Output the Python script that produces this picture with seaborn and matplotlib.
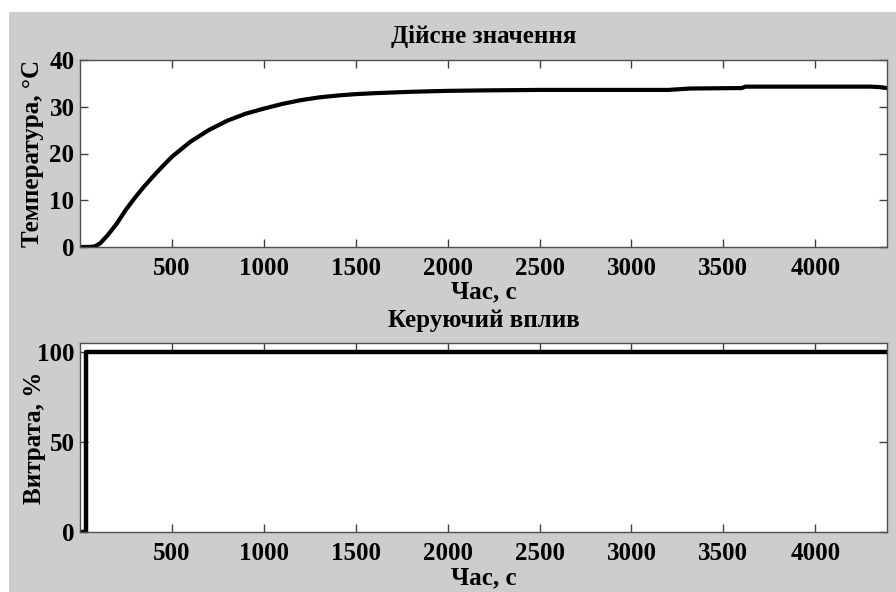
# Перехідний процес: температура та керуючий вплив (MATLAB-подібний вигляд)

import pandas as pd
import matplotlib
matplotlib.use("Agg")
import matplotlib.pyplot as plt
import seaborn as sns
from matplotlib.patches import Rectangle

# Дані
time_temp = [0, 40, 80, 110, 150, 200, 250, 300, 350, 400, 450, 500, 600, 700, 800,
             900, 1000, 1100, 1200, 1300, 1400, 1500, 1600, 1800, 2000, 2200, 2500,
             2800, 3000, 3200, 3320, 3600, 3620, 4300, 4350, 4390]
temperature = [0, 0, 0.1, 0.8, 2.5, 5.0, 8.0, 10.6, 13.0, 15.2, 17.3, 19.3, 22.5, 25.0, 27.0,
               28.5, 29.6, 30.6, 31.4, 32.0, 32.4, 32.7, 32.9, 33.2, 33.4, 33.5, 33.6,
               33.6, 33.6, 33.6, 33.9, 34.0, 34.3, 34.3, 34.2, 34.0]

time_ctrl = [0, 30, 30, 4390]
control = [0, 0, 100, 100]

x_ticks = [500, 1000, 1500, 2000, 2500, 3000, 3500, 4000]
temp_ticks = [0, 10, 20, 30, 40]
ctrl_ticks = [0, 50, 100]

df_temp = pd.DataFrame({"t": time_temp, "T": temperature})
df_ctrl = pd.DataFrame({"t": time_ctrl, "u": control})

sns.set_style("ticks")
plt.rcParams["font.family"] = ["Liberation Serif", "DejaVu Serif"]
plt.rcParams["font.weight"] = "bold"
plt.rcParams["text.color"] = "black"
plt.rcParams["axes.labelcolor"] = "black"
plt.rcParams["xtick.labelcolor"] = "black"
plt.rcParams["ytick.labelcolor"] = "black"
fs = 18

fig = plt.figure(figsize=(8.96, 5.92), dpi=100, facecolor="white")
fig.patches.append(Rectangle((9 / 896, 0), 1, 1 - 12 / 592, transform=fig.transFigure,
                             facecolor="#cdcdcd", edgecolor="none", zorder=-10))

ax1 = fig.add_axes([80 / 896, 1 - 247 / 592, 807 / 896, 187 / 592])
ax2 = fig.add_axes([80 / 896, 1 - 532 / 592, 807 / 896, 189 / 592])

sns.lineplot(data=df_temp, x="t", y="T", ax=ax1, color="black", linewidth=3,
             estimator=None, sort=False)
sns.lineplot(data=df_ctrl, x="t", y="u", ax=ax2, color="black", linewidth=3.2,
             estimator=None, sort=False)

for ax, yt, ylim in [(ax1, temp_ticks, (0, 40)), (ax2, ctrl_ticks, (0, 105))]:
    ax.set_facecolor("white")
    ax.set_xlim(0, 4390)
    ax.set_ylim(*ylim)
    ax.set_xticks(x_ticks)
    ax.set_yticks(yt)
    ax.tick_params(direction="in", length=6, width=1, color="#404040",
                   labelcolor="black", top=True, right=True, labelsize=fs)
    ax.tick_params(axis="x", pad=7)
    ax.tick_params(axis="y", pad=4)
    for lbl in ax.get_xticklabels() + ax.get_yticklabels():
        lbl.set_fontweight("bold")
    for sp in ax.spines.values():
        sp.set_visible(True)
        sp.set_color("#505050")
        sp.set_linewidth(1)

ax1.set_xlabel("Час, с", fontsize=fs, fontweight="bold", va="center")
ax1.xaxis.set_label_coords(0.5, -45 / 187)
ax2.set_xlabel("Час, с", fontsize=fs, fontweight="bold", va="center")
ax2.xaxis.set_label_coords(0.5, -46 / 189)

ax1.set_ylabel("Температура, °С", fontsize=fs, fontweight="bold", va="center")
ax1.yaxis.set_label_coords(-48 / 807, 0.5)
ax2.set_ylabel("Витрата, %", fontsize=fs, fontweight="bold", va="center")
ax2.yaxis.set_label_coords(-45 / 807, 0.5)

ax1.set_title("Дійсне значення", fontsize=fs, fontweight="bold",
              y=1 + 24 / 187, va="center", pad=0)
ax2.set_title("Керуючий вплив", fontsize=fs, fontweight="bold",
              y=1 + 23 / 189, va="center", pad=0)

fig.savefig("out.png", dpi=100, facecolor=fig.get_facecolor())
